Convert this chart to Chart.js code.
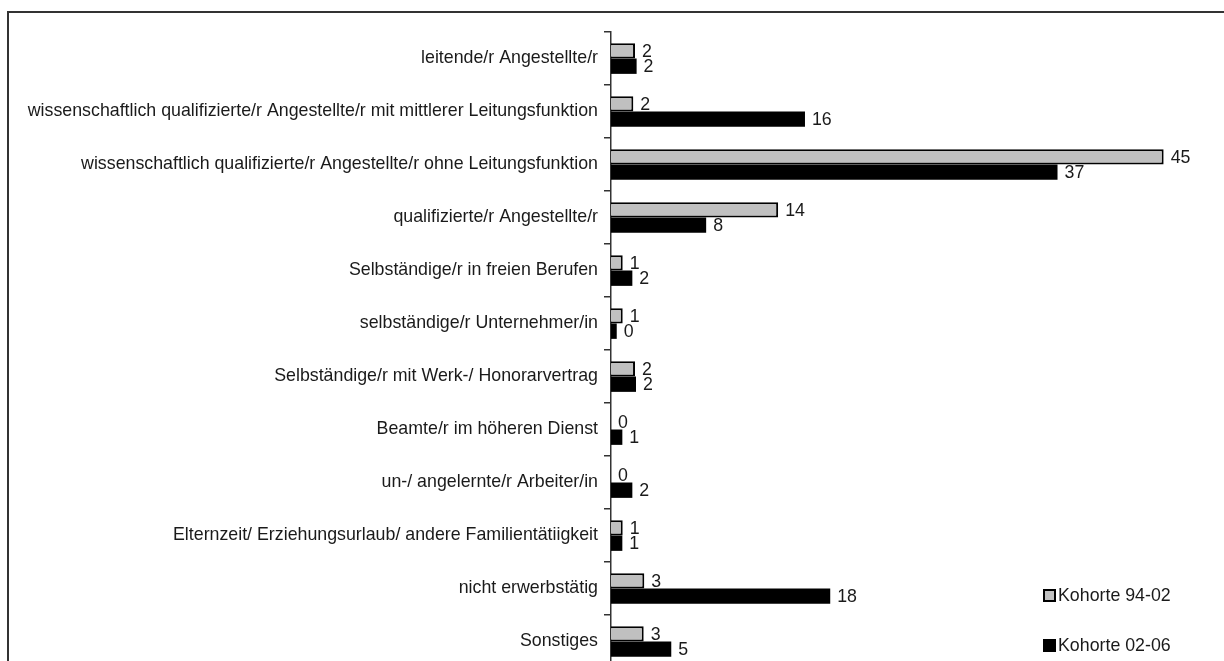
<!DOCTYPE html>
<html lang="de">
<head>
<meta charset="utf-8">
<title>Berufliche Stellung nach Kohorte</title>
<script src="https://cdn.jsdelivr.net/npm/chart.js@4.4.1/dist/chart.umd.min.js"></script>
<style>
    html, body { margin: 0; padding: 0; background: #fff; overflow: hidden; }
    #frame {
        position: absolute;
        left: 7px;
        top: 11px;
        width: 1400px;
        height: 800px;
        border: 2px solid #333;
    }
    #wrap { position: absolute; left: 0; top: 0; width: 1224px; height: 700px; }
</style>
</head>
<body>
<div id="frame"></div>
<div id="wrap"><canvas id="stellung-chart" width="1224" height="700"></canvas></div>
<script>
const categories = [
    'leitende/r Angestellte/r',
    'wissenschaftlich qualifizierte/r Angestellte/r mit mittlerer Leitungsfunktion',
    'wissenschaftlich qualifizierte/r Angestellte/r ohne Leitungsfunktion',
    'qualifizierte/r Angestellte/r',
    'Selbständige/r in freien Berufen',
    'selbständige/r Unternehmer/in',
    'Selbständige/r mit Werk-/ Honorarvertrag',
    'Beamte/r im höheren Dienst',
    'un-/ angelernte/r Arbeiter/in',
    'Elternzeit/ Erziehungsurlaub/ andere Familientätiigkeit',
    'nicht erwerbstätig',
    'Sonstiges'
];

const kohorte9402 = [1.97, 1.83, 45.3, 13.7, 0.96, 0.96, 1.97, 0, 0, 0.96, 2.73, 2.68];
const kohorte0206 = [2.1, 15.9, 36.6, 7.8, 1.75, 0.47, 2.05, 0.93, 1.75, 0.93, 17.97, 4.94];

const seriesNames = ['Kohorte 94-02', 'Kohorte 02-06'];

const FONT = '"Liberation Sans", Arial, sans-serif';

// value labels right of every bar
const valueLabels = {
    id: 'valueLabels',
    afterDatasetsDraw(chart) {
        const ctx = chart.ctx;
        ctx.save();
        ctx.font = '17.8px ' + FONT;
        ctx.fillStyle = '#1a1a1a';
        ctx.textAlign = 'left';
        ctx.textBaseline = 'middle';
        chart.data.datasets.forEach((ds, i) => {
            chart.getDatasetMeta(i).data.forEach((bar, j) => {
                ctx.fillText(String(Math.round(ds.data[j])), bar.x + 7, bar.y + 1);
            });
        });
        ctx.restore();
    }
};

// legend stacked in the lower right corner
const cornerLegend = {
    id: 'cornerLegend',
    afterDraw(chart) {
        const ctx = chart.ctx;
        const x = 1043;
        const rows = [595, 645];
        ctx.save();
        ctx.font = '17.8px ' + FONT;
        ctx.textBaseline = 'middle';
        chart.data.datasets.forEach((ds, i) => {
            const y = rows[i];
            ctx.fillStyle = ds.backgroundColor;
            ctx.fillRect(x, y - 6, 13, 13);
            ctx.strokeStyle = '#000';
            ctx.lineWidth = 2;
            ctx.strokeRect(x + 1, y - 5, 11, 11);
            ctx.fillStyle = '#1a1a1a';
            ctx.fillText(ds.label, x + 15, y + 1);
        });
        ctx.restore();
    }
};

const canvas = document.querySelector('#stellung-chart');
const ctx = canvas.getContext('2d');

new Chart(ctx, {
    type: 'bar',
    data: {
        labels: categories,
        datasets: [{
            label: seriesNames[0],
            data: kohorte9402,
            backgroundColor: '#c0c0c0',
            borderColor: '#000',
            borderWidth: 2,
            categoryPercentage: 0.58,
            barPercentage: 1.0
        }, {
            label: seriesNames[1],
            data: kohorte0206,
            backgroundColor: '#000',
            borderWidth: 0,
            categoryPercentage: 0.58,
            barPercentage: 1.0
        }]
    },
    options: {
        indexAxis: 'y',
        responsive: false,
        animation: false,
        devicePixelRatio: 1,
        // canvas is taller than the window: the last row is cut off like in the original
        layout: { padding: { top: 32, right: 3, bottom: 32, left: 0 } },
        plugins: {
            legend: { display: false },
            tooltip: { enabled: false }
        },
        scales: {
            x: {
                display: false,
                min: 0,
                max: 50
            },
            y: {
                afterFit: (scale) => { scale.width = 611; },
                grid: {
                    offset: true,
                    drawOnChartArea: false,
                    drawTicks: true,
                    tickLength: 7,
                    color: '#333',
                    lineWidth: 1.5
                },
                border: { display: true, color: '#333', width: 1.5 },
                ticks: {
                    padding: 6,
                    color: '#1a1a1a',
                    font: { family: FONT, size: 17.8 }
                }
            }
        }
    },
    plugins: [valueLabels, cornerLegend]
});
</script>
</body>
</html>
